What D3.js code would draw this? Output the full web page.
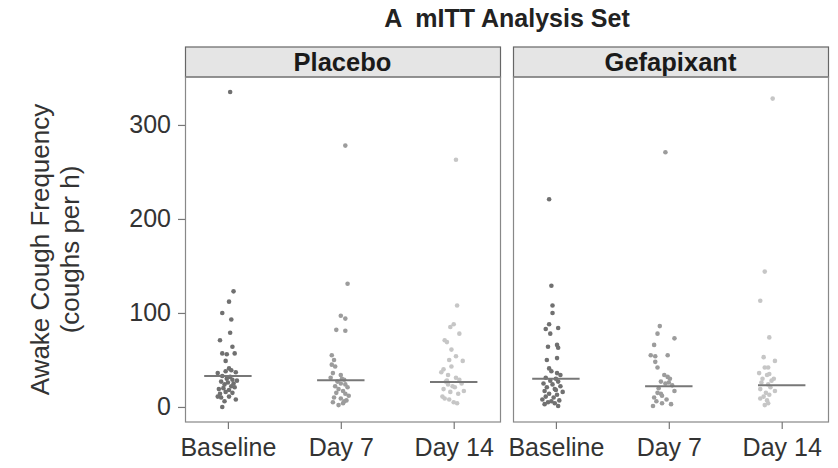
<!DOCTYPE html>
<html>
<head>
<meta charset="utf-8">
<script src="https://cdn.jsdelivr.net/npm/d3@7"></script>
<style>
  body { margin: 0; background: #fff; }
  text { font-family: "Liberation Sans", Arial, sans-serif; }
</style>
</head>
<body>
<div class="chart"></div>
<script>
var width = 838;
var height = 468;

// categories and panels
var visits = ["Baseline", "Day 7", "Day 14"];
var arms = ["Placebo", "Gefapixant"];
var yTicks = [0, 100, 200, 300];

// each point: [x jitter in category units, coughs per h]
var placeboBaseline = [[0.02,335],[0.05,123],[0.01,112],[-0.05,100],[0.03,93],[0.02,79],[-0.07,71],[0.04,64],
  [-0.05,57],[-0.01,56],[0.06,57],[-0.02,49],[0.01,41],[0.03,39],[-0.02,38],[-0.09,36],[0.07,37],[-0.05,33],
  [0.02,32],[-0.01,30],[0.04,29],[0.08,28],[-0.06,27],[0.00,26],[0.05,25],[-0.03,24],[0.03,22],[0.06,21],
  [-0.04,20],[-0.08,19],[0.01,18],[-0.02,16],[0.04,15],[-0.07,14],[-0.09,11],[-0.06,10],[0.07,8],[0.01,11],
  [-0.03,6],[-0.05,0]];
var placeboDay7 = [[0.04,278],[0.06,131],[0.0,97],[0.04,94],[-0.04,82],[0.04,81],[-0.08,55],[-0.06,50],
  [-0.08,45],[-0.05,43],[-0.07,36],[0.0,34],[-0.09,31],[0.01,30],[0.03,29],[-0.03,27],[0.0,25],[0.04,24],
  [-0.05,22],[0.06,21],[-0.02,19],[0.02,17],[-0.04,15],[0.04,14],[0.07,12],[-0.06,10],[0.0,9],[0.05,7],
  [-0.07,5],[0.02,4],[-0.02,2],[0.03,6]];
var placeboDay14 = [[0.02,263],[0.03,108],[0.0,88],[-0.03,85],[0.05,78],[-0.08,71],[-0.06,69],[-0.02,61],
  [0.02,54],[-0.04,50],[0.08,49],[-0.02,43],[-0.09,40],[-0.11,37],[-0.05,34],[0.02,31],[0.05,29],[-0.07,27],
  [-0.05,24],[-0.01,22],[0.01,21],[-0.09,19],[0.09,17],[-0.03,16],[0.04,14],[-0.1,11],[-0.08,9],[-0.04,8],
  [0.0,5],[0.03,4],[0.07,25],[-0.06,28]];
var gefaBaseline = [[-0.06,221],[-0.04,129],[-0.03,108],[-0.03,100],[-0.06,88],[-0.09,83],[0.02,84],[-0.05,78],
  [-0.07,64],[0.01,66],[0.02,63],[-0.08,50],[0.01,52],[-0.06,41],[-0.04,38],[0.01,36],[0.04,34],[-0.09,31],
  [0.0,30],[-0.05,28],[0.02,27],[-0.11,25],[-0.03,24],[0.04,22],[-0.08,21],[-0.01,19],[-0.1,17],[0.06,16],
  [-0.06,14],[0.01,13],[-0.09,11],[-0.02,10],[-0.12,8],[0.03,7],[-0.07,5],[-0.01,4],[-0.1,3],[0.02,1],
  [-0.04,6],[0.0,18]];
var gefaDay7 = [[-0.03,271],[-0.08,86],[-0.1,78],[0.05,73],[-0.13,66],[-0.16,55],[-0.12,54],[-0.01,55],
  [-0.12,48],[-0.1,42],[-0.04,34],[-0.01,32],[0.01,30],[-0.07,27],[-0.03,25],[0.03,23],[-0.09,20],[0.05,17],
  [-0.1,15],[-0.06,12],[-0.13,10],[-0.02,8],[-0.11,6],[-0.06,4],[0.02,3],[-0.14,1],[0.0,26],[-0.07,14]];
var gefaDay14 = [[-0.08,328],[-0.15,144],[-0.19,113],[-0.11,74],[-0.16,53],[-0.06,49],[-0.15,42],[-0.12,42],
  [-0.2,36],[-0.13,34],[-0.11,35],[-0.17,30],[-0.07,30],[-0.18,26],[-0.12,24],[-0.1,21],[-0.19,19],[-0.06,17],
  [-0.14,15],[-0.11,13],[-0.19,9],[-0.13,7],[-0.12,4],[-0.16,11],[-0.09,28],[-0.15,2]];

// medians per visit
var placeboMedians = [33, 28.5, 26.5];
var gefaMedians = [30, 22, 23];

var groups = [
  {arm: "Placebo", visit: 0, points: placeboBaseline, median: placeboMedians[0]},
  {arm: "Placebo", visit: 1, points: placeboDay7, median: placeboMedians[1]},
  {arm: "Placebo", visit: 2, points: placeboDay14, median: placeboMedians[2]},
  {arm: "Gefapixant", visit: 0, points: gefaBaseline, median: gefaMedians[0]},
  {arm: "Gefapixant", visit: 1, points: gefaDay7, median: gefaMedians[1]},
  {arm: "Gefapixant", visit: 2, points: gefaDay14, median: gefaMedians[2]}
];

var visitColors = ["#707070", "#9c9c9c", "#c6c6c6"];

var panelTop = 47, stripH = 30, plotBottom = 422;
var panelWidth = 315;
var panelX = {"Placebo": 185, "Gefapixant": 513};

var svg = d3.select(".chart")
  .append("svg")
  .attr("width", width)
  .attr("height", height);

var yScale = d3.scaleLinear()
  .domain([-16, 351])
  .range([plotBottom, panelTop + stripH]);

var xScale = d3.scaleLinear()
  .domain([0.62, 3.41])
  .range([0, panelWidth]);

// title
svg.append("text")
  .attr("x", 507)
  .attr("y", 27)
  .attr("text-anchor", "middle")
  .attr("font-size", 25)
  .attr("font-weight", "bold")
  .attr("fill", "#222")
  .attr("xml:space", "preserve")
  .text("A  mITT Analysis Set");

// y axis title
var yLab = svg.append("g")
  .attr("transform", "translate(0," + (panelTop + stripH + plotBottom) / 2 + ") rotate(-90)");
yLab.append("text")
  .attr("y", 49)
  .attr("text-anchor", "middle")
  .attr("font-size", 26)
  .attr("fill", "#333")
  .text("Awake Cough Frequency");
yLab.append("text")
  .attr("y", 79)
  .attr("text-anchor", "middle")
  .attr("font-size", 26)
  .attr("fill", "#333")
  .text("(coughs per h)");

arms.forEach(function(arm) {
  var g = svg.append("g").attr("transform", "translate(" + panelX[arm] + ",0)");

  // strip header
  g.append("rect")
    .attr("x", 0.5).attr("y", panelTop)
    .attr("width", panelWidth).attr("height", stripH)
    .attr("fill", "#e5e5e5")
    .attr("stroke", "#666")
    .attr("stroke-width", 1.2);
  g.append("text")
    .attr("x", panelWidth / 2)
    .attr("y", panelTop + 24)
    .attr("text-anchor", "middle")
    .attr("font-size", 25.5)
    .attr("font-weight", "bold")
    .attr("fill", "#1a1a1a")
    .text(arm);

  // panel box
  g.append("rect")
    .attr("x", 0.5).attr("y", panelTop + stripH)
    .attr("width", panelWidth).attr("height", plotBottom - panelTop - stripH)
    .attr("fill", "none")
    .attr("stroke", "#888")
    .attr("stroke-width", 1.2);

  // bottom axis
  var xAxis = g.append("g")
    .attr("transform", "translate(0," + plotBottom + ")")
    .call(d3.axisBottom(xScale)
      .tickValues([1, 2, 3])
      .tickSize(7)
      .tickPadding(9)
      .tickFormat(function(d) { return visits[d - 1]; }));
  xAxis.select(".domain").remove();
  xAxis.selectAll(".tick line").attr("stroke", "#777").attr("stroke-width", 1.2);
  xAxis.selectAll(".tick text")
    .attr("font-family", "Liberation Sans, Arial, sans-serif")
    .attr("font-size", 25)
    .attr("fill", "#333");

  groups.filter(function(d) { return d.arm === arm; }).forEach(function(grp) {
    var cx = grp.visit + 1;
    g.append("g").selectAll("circle")
      .data(grp.points)
      .enter()
      .append("circle")
      .attr("cx", function(d) { return xScale(cx + d[0]); })
      .attr("cy", function(d) { return yScale(d[1]); })
      .attr("r", 2.3)
      .attr("fill", visitColors[grp.visit]);

    g.append("line")
      .attr("x1", xScale(cx - 0.21))
      .attr("x2", xScale(cx + 0.21))
      .attr("y1", yScale(grp.median))
      .attr("y2", yScale(grp.median))
      .attr("stroke", "#777")
      .attr("stroke-width", 2);
  });
});

// left axis on first panel
var yAxis = svg.append("g")
  .attr("transform", "translate(" + panelX["Placebo"] + ",0)")
  .call(d3.axisLeft(yScale).tickValues(yTicks).tickSize(7).tickPadding(7));
yAxis.select(".domain").remove();
yAxis.selectAll(".tick line").attr("stroke", "#777").attr("stroke-width", 1.2);
yAxis.selectAll(".tick text")
  .attr("font-family", "Liberation Sans, Arial, sans-serif")
  .attr("font-size", 25)
  .attr("fill", "#333");
</script>
</body>
</html>
